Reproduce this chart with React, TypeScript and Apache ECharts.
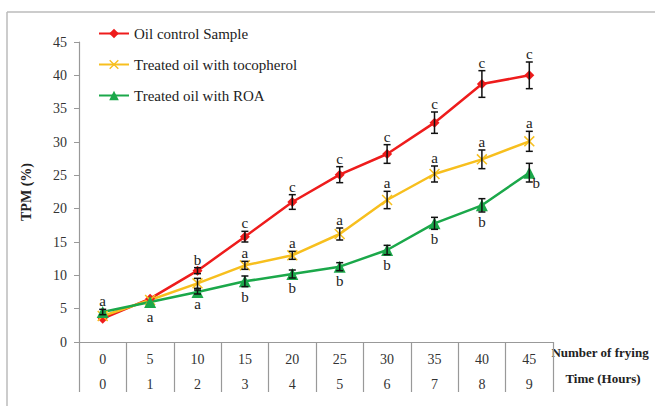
import React, { useEffect, useRef } from "react";
import * as echarts from "echarts";

const fryingNumbers = ["0", "5", "10", "15", "20", "25", "30", "35", "40", "45"];
const hours = ["0", "1", "2", "3", "4", "5", "6", "7", "8", "9"];

const seriesNames = ["Oil control Sample", "Treated oil with tocopherol", "Treated oil with ROA"];

const controlValues = [3.5, 6.5, 10.7, 15.8, 21.0, 25.1, 28.2, 32.9, 38.7, 40.0];
const tocopherolValues = [3.9, 6.3, 8.8, 11.5, 13.0, 16.2, 21.3, 25.2, 27.4, 30.1];
const roaValues = [4.5, 6.0, 7.5, 9.1, 10.2, 11.3, 13.8, 17.8, 20.5, 25.4];

const controlErrors = [0, 0, 0.45, 0.8, 1.1, 1.2, 1.4, 1.6, 2.0, 2.0];
const tocopherolErrors = [0, 0, 0.75, 0.6, 0.6, 0.9, 1.3, 1.2, 1.4, 1.5];
const roaErrors = [0.4, 0, 0.3, 0.8, 0.6, 0.6, 0.7, 0.9, 1.0, 1.4];

const controlLetters = ["", "", "b", "c", "c", "c", "c", "c", "c", "c"];
const tocopherolLetters = ["", "", "", "a", "a", "a", "a", "a", "a", "a"];
const roaLetters = ["a", "a", "a", "b", "b", "b", "b", "b", "b", "b"];

const controlLetterPos = ["t", "t", "t", "t", "t", "t", "t", "t", "t", "t"];
const tocopherolLetterPos = ["t", "t", "t", "t", "t", "t", "t", "t", "t", "t"];
const roaLetterPos = ["t", "b", "b", "b", "b", "b", "b", "b", "b", "br"];

const SERIF = "Liberation Serif";
const RED = "#EE1C1C";
const YELLOW = "#F7BF1E";
const GREEN = "#1BA84A";
const X_SYMBOL =
  "path://M0,1 L1,0 L5,4 L9,0 L10,1 L6,5 L10,9 L9,10 L5,6 L1,10 L0,9 L4,5 Z";

function errSeries(values: number[], errs: number[], letters: string[], pos: string[]) {
  return {
    type: "custom",
    silent: true,
    z: 5,
    data: values.map((v, i) => [i, v, errs[i]]),
    encode: { x: 0, y: 1 },
    renderItem: (params: any, api: any) => {
      const i = params.dataIndex;
      const x = api.value(0);
      const v = api.value(1);
      const e = api.value(2);
      const pt = api.coord([x, v]);
      const top = api.coord([x, v + e]);
      const bot = api.coord([x, v - e]);
      const children: any[] = [];
      const ls = { stroke: "#111", lineWidth: 1.5 };
      if (e > 0) {
        children.push({ type: "line", shape: { x1: pt[0], y1: top[1], x2: pt[0], y2: bot[1] }, style: ls });
        children.push({ type: "line", shape: { x1: pt[0] - 3.5, y1: top[1], x2: pt[0] + 3.5, y2: top[1] }, style: ls });
        children.push({ type: "line", shape: { x1: pt[0] - 3.5, y1: bot[1], x2: pt[0] + 3.5, y2: bot[1] }, style: ls });
      }
      const letter = letters[i];
      if (letter) {
        let tx = pt[0];
        let ty = pt[1];
        const p = pos[i];
        if (p === "t") ty = e > 0 ? top[1] - 8 : pt[1] - 15;
        else if (p === "b") ty = e > 0 ? bot[1] + 10 : pt[1] + 15;
        else if (p === "br") {
          tx = pt[0] + 7;
          ty = bot[1] + 1;
        }
        children.push({
          type: "text",
          x: tx,
          y: ty,
          style: {
            text: letter,
            fill: "#222",
            fontSize: 15,
            fontFamily: SERIF,
            align: "center",
            verticalAlign: "middle",
          },
        });
      }
      return { type: "group", children };
    },
  };
}

export default function App() {
  const ref = useRef<HTMLDivElement>(null);
  useEffect(() => {
    if (!ref.current) return;
    const chart = echarts.init(ref.current, undefined, { renderer: "svg" });
    chart.setOption({
      animation: false,
      backgroundColor: "#ffffff",
      textStyle: { fontFamily: SERIF },
      grid: { left: 79, right: 102, top: 42, bottom: 64, containLabel: false },
      legend: {
        orient: "vertical",
        left: 93,
        top: 21,
        itemWidth: 30,
        itemHeight: 12,
        itemGap: 16,
        textStyle: { fontFamily: SERIF, fontSize: 15, color: "#222" },
        data: seriesNames,
      },
      xAxis: {
        type: "category",
        boundaryGap: true,
        data: fryingNumbers,
        axisLine: { show: true, lineStyle: { color: "#999", width: 1.2 } },
        axisTick: { show: true, interval: 0, length: 50, lineStyle: { color: "#999", width: 1.2 } },
        axisLabel: {
          interval: 0,
          margin: 5,
          lineHeight: 25,
          fontSize: 14,
          color: "#333",
          fontFamily: SERIF,
          formatter: (val: string, idx: number) => `${val}\n${hours[idx]}`,
        },
        splitLine: { show: false },
      },
      yAxis: {
        type: "value",
        min: 0,
        max: 45,
        interval: 5,
        name: "TPM (%)",
        nameLocation: "middle",
        nameRotate: 90,
        nameGap: 46,
        nameTextStyle: { fontFamily: SERIF, fontSize: 14, fontWeight: "bold", color: "#222" },
        axisLine: { show: true, lineStyle: { color: "#999", width: 1.2 } },
        axisTick: { show: true, length: 5, lineStyle: { color: "#999" } },
        axisLabel: { margin: 12, fontSize: 14, color: "#333", fontFamily: SERIF },
        splitLine: { show: false },
      },
      series: [
        {
          name: seriesNames[0],
          type: "line",
          data: controlValues,
          symbol: "diamond",
          symbolSize: 10,
          lineStyle: { color: RED, width: 2.5 },
          itemStyle: { color: RED },
        },
        {
          name: seriesNames[1],
          type: "line",
          data: tocopherolValues,
          symbol: X_SYMBOL,
          symbolSize: 11,
          lineStyle: { color: YELLOW, width: 2.5 },
          itemStyle: { color: YELLOW },
        },
        {
          name: seriesNames[2],
          type: "line",
          data: roaValues,
          symbol: "triangle",
          symbolSize: 12,
          lineStyle: { color: GREEN, width: 2.5 },
          itemStyle: { color: GREEN },
        },
        errSeries(controlValues, controlErrors, controlLetters, controlLetterPos),
        errSeries(tocopherolValues, tocopherolErrors, tocopherolLetters, tocopherolLetterPos),
        errSeries(roaValues, roaErrors, roaLetters, roaLetterPos),
      ],
      graphic: [
        { type: "line", shape: { x1: 7, y1: 12, x2: 655, y2: 12 }, style: { stroke: "#bbb", lineWidth: 1.5 } },
        { type: "line", shape: { x1: 7, y1: 12, x2: 7, y2: 406 }, style: { stroke: "#bbb", lineWidth: 1.5 } },
        {
          type: "text",
          x: 600,
          y: 352,
          style: {
            text: "Number of frying",
            fontFamily: SERIF,
            fontSize: 13,
            fontWeight: "bold",
            fill: "#222",
            align: "center",
            verticalAlign: "middle",
          },
        },
        {
          type: "text",
          x: 603,
          y: 378,
          style: {
            text: "Time (Hours)",
            fontFamily: SERIF,
            fontSize: 13,
            fontWeight: "bold",
            fill: "#222",
            align: "center",
            verticalAlign: "middle",
          },
        },
      ],
    });
    return () => chart.dispose();
  }, []);
  return (
    <div
      ref={ref}
      style={{ position: "fixed", left: 0, top: 0, width: 655, height: 406 }}
    />
  );
}
